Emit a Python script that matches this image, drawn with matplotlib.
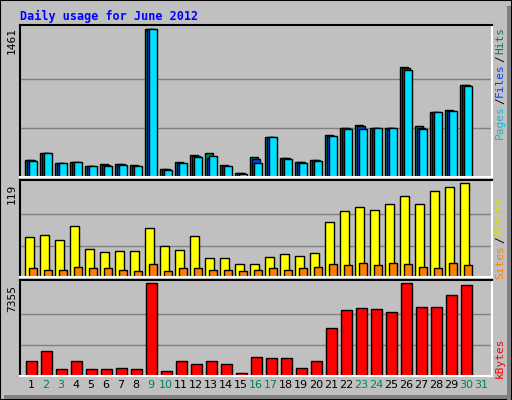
import matplotlib
matplotlib.use("Agg")
import matplotlib.pyplot as plt
from matplotlib.patches import Rectangle
import numpy as np

days = list(range(1, 32))
day_labels = [str(d) for d in days]
weekend = [2, 3, 9, 10, 16, 17, 23, 24, 30, 31]

hits  = [166, 233, 143, 153, 106, 126, 133, 116, 1461, 77, 146, 216, 236, 116, 37, 196,
         395, 193, 146, 166, 414, 484, 511, 484, 484, 1090, 500, 643, 662, 909, 0]
files = [166, 233, 140, 153, 104, 120, 130, 112, 1461, 77, 143, 210, 184, 112, 37, 180,
         395, 188, 146, 164, 410, 484, 500, 484, 484, 1080, 490, 643, 656, 909, 0]
pages = [160, 233, 143, 153, 104, 110, 120, 104, 1461, 70, 140, 196, 204, 104, 30, 140,
         395, 180, 140, 160, 404, 474, 480, 484, 484, 1060, 474, 643, 650, 900, 0]
visits = [51, 53, 47, 65, 35, 31, 33, 33, 62, 39, 34, 52, 24, 24, 17, 16,
          25, 29, 27, 30, 70, 83, 89, 85, 92, 102, 92, 109, 114, 119, 0]
sites = [12, 9, 9, 13, 11, 11, 9, 8, 16, 7, 11, 12, 9, 9, 8, 9,
         12, 9, 11, 13, 16, 15, 18, 15, 18, 17, 13, 11, 18, 15, 0]
kbytes = [1185, 1994, 539, 1185, 539, 539, 620, 539, 7300, 377, 1185, 943, 1185, 943, 216, 1509,
          1428, 1428, 620, 1185, 3772, 5226, 5388, 5307, 5065, 7355, 5469, 5469, 6358, 7166, 0]

W, H = 512, 400
BG = "#C0C0C0"
fig = plt.figure(figsize=(W/100, H/100), dpi=100)
fig.patch.set_facecolor(BG)

def fr(x0, y0, x1, y1):
    return [x0/W, 1 - y1/H, (x1-x0)/W, (y1-y0)/H]

fig.patches.append(Rectangle((0, 0), 1, 1, transform=fig.transFigure, fill=False, ec="black", lw=1.5))
fig.patches.append(Rectangle((507/W, 0), 4/W, 1-6/H, transform=fig.transFigure, fc="#808080", ec="none"))
fig.patches.append(Rectangle((4/W, 1/H), 507/W, 4/H, transform=fig.transFigure, fc="#808080", ec="none"))

px = 15.0
lo = 2/3
hi = lo + 472/px
u = 1/px
x = np.array(days, dtype=float)

def setup(ax, top):
    ax.set_facecolor(BG)
    ax.set_xlim(lo, hi)
    ax.set_ylim(0, top * 1.03)
    for t in (top/3, 2*top/3):
        ax.axhline(t, color="#808080", lw=1, zorder=0)
    ax.set_xticks([]); ax.set_yticks([])
    ax.spines["top"].set_color("black"); ax.spines["left"].set_color("black")
    ax.spines["right"].set_color("white"); ax.spines["bottom"].set_color("white")
    for s in ax.spines.values():
        s.set_linewidth(1.5)

kw = dict(align="edge", edgecolor="black", linewidth=1)
ax1 = fig.add_axes(fr(20, 25, 492, 177))
setup(ax1, max(hits))
ax1.bar(x, hits, width=8*u, color="#00805C", **kw)
ax1.bar(x + 2*u, files, width=8*u, color="#0040FF", **kw)
ax1.bar(x + 4*u, pages, width=8*u, color="#00E0FF", **kw)

ax2 = fig.add_axes(fr(20, 180, 492, 277))
setup(ax2, max(visits))
ax2.bar(x, visits, width=9*u, color="#FFFF00", **kw)
ax2.bar(x + 4*u, sites, width=8*u, color="#FF8000", **kw)

ax3 = fig.add_axes(fr(20, 280, 492, 376))
setup(ax3, max(kbytes))
ax3.bar(x + 1*u, kbytes, width=11*u, color="#FF0000", **kw)

for d, lab in zip(days, day_labels):
    ax3.text(d + 6*u, -0.04, lab, transform=ax3.get_xaxis_transform(), ha="center", va="top",
             fontsize=8, color="#00805C" if d in weekend else "black", family="DejaVu Sans")

def ftext(xp, yp, s, **k):
    fig.text(xp/W, 1 - yp/H, s, **k)

ftext(20, 16, "Daily usage for June 2012", color="#0000FF", fontsize=8.5, weight="bold",
      family="DejaVu Sans Mono", va="center", ha="left")
mono = dict(family="DejaVu Sans Mono", fontsize=8, rotation=90, ha="center", va="center")
ftext(12, 40, str(max(hits)), color="black", **mono)
ftext(12, 194, str(max(visits)), color="black", **mono)
ftext(12, 298, str(max(kbytes)), color="black", **mono)

ftext(500, 40, "Hits", color="#00805C", **mono)
ftext(500, 59, "/", color="black", **mono)
ftext(500, 80, "Files", color="#0040FF", **mono)
ftext(500, 101, "/", color="black", **mono)
ftext(500, 122, "Pages", color="#00C0E0", **mono)
ftext(500, 217, "Visits", color="#E0E000", **mono)
ftext(500, 240, "/", color="black", **mono)
ftext(500, 262, "Sites", color="#FF8000", **mono)
ftext(500, 358, "kBytes", color="#FF0000", **mono)

fig.savefig("out.png", dpi=100, facecolor=BG)
